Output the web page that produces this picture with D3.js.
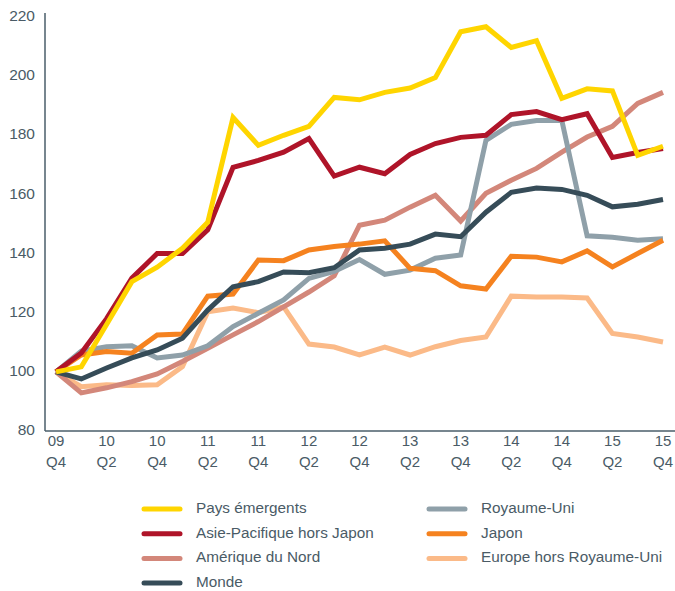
<!DOCTYPE html>
<html>
<head>
<meta charset="utf-8">
<script src="https://cdn.jsdelivr.net/npm/d3@7"></script>
<style>
  body { margin: 0; background: #fff; }
  svg { display: block; font-family: "Liberation Sans", Arial, sans-serif; }
</style>
</head>
<body>
<div id="chart"></div>
<script>
// quarters from 09 Q4 to 15 Q4
const quarters = ['09 Q4', '10 Q1', '10 Q2', '10 Q3', '10 Q4', '11 Q1', '11 Q2', '11 Q3', '11 Q4',
    '12 Q1', '12 Q2', '12 Q3', '12 Q4', '13 Q1', '13 Q2', '13 Q3', '13 Q4',
    '14 Q1', '14 Q2', '14 Q3', '14 Q4', '15 Q1', '15 Q2', '15 Q3', '15 Q4'];

const paysEmergents = [100, 101.7, 116, 130.5, 135.4, 141.8, 150.6, 186, 176.6, 180, 183, 192.8,
    192, 194.5, 196, 199.5, 215, 216.7, 209.7, 212, 192.5, 195.7, 195, 173.2, 176.3];
const asiePacifique = [100, 106.4, 118, 131.7, 140, 140, 148, 169.2, 171.5, 174.3, 178.9, 166.2,
    169.2, 167, 173.5, 177.2, 179.3, 180, 187, 188, 185.3, 187.3, 172.5, 174.2, 175.5];
const ameriqueNord = [100, 92.9, 94.6, 96.7, 99.3, 103.5, 108, 112.5, 117, 122, 127, 132.5,
    149.6, 151.3, 155.7, 159.7, 151, 160.4, 164.8, 168.8, 174.3, 179.4, 183, 190.8, 194.5];
const monde = [100, 97.6, 101.3, 104.7, 107.4, 111.4, 120.9, 128.8, 130.5, 133.8, 133.5, 135.2,
    141.2, 141.8, 143.2, 146.6, 145.7, 154, 160.7, 162.2, 161.7, 159.7, 155.8, 156.7, 158.3];
const royaumeUni = [100, 107, 108.5, 108.8, 104.7, 105.7, 108.8, 115.3, 119.8, 124.3, 131.6, 134,
    138, 133, 134.4, 138.4, 139.5, 178.3, 183.7, 185, 185, 146, 145.5, 144.5, 145];
const japon = [100, 105.7, 106.9, 106.3, 112.5, 112.8, 125.6, 126.3, 137.8, 137.6, 141.2, 142.4,
    143.2, 144.3, 135, 134.2, 129.1, 128, 139.1, 138.8, 137.2, 140.9, 135.5, 140, 144.5];
const europeHorsRU = [100, 95, 95.6, 95.4, 95.6, 101.8, 120.3, 121.6, 120, 122, 109.4, 108.4,
    105.7, 108.4, 105.7, 108.5, 110.6, 111.8, 125.6, 125.3, 125.3, 125, 113, 111.8, 110.1];

const yTicks = [80, 100, 120, 140, 160, 180, 200, 220];

const series = [
    { name: 'Europe hors Royaume-Uni', values: europeHorsRU, color: '#FBBA88' },
    { name: 'Amérique du Nord', values: ameriqueNord, color: '#D3877A' },
    { name: 'Royaume-Uni', values: royaumeUni, color: '#8FA0A9' },
    { name: 'Japon', values: japon, color: '#F5821F' },
    { name: 'Monde', values: monde, color: '#364C58' },
    { name: 'Asie-Pacifique hors Japon', values: asiePacifique, color: '#AF1429' },
    { name: 'Pays émergents', values: paysEmergents, color: '#FFD500' }
];

// legend layout: two columns, order as in the reference
const legendLeft = ['Pays émergents', 'Asie-Pacifique hors Japon', 'Amérique du Nord', 'Monde'];
const legendRight = ['Royaume-Uni', 'Japon', 'Europe hors Royaume-Uni'];

const width = 675, height = 591;
const textColor = '#4A5B66';
const axisColor = '#4A5E6A';

const svg = d3.select('#chart').append('svg')
    .attr('width', width)
    .attr('height', height);

const x = d3.scaleLinear()
    .domain([0, quarters.length - 1])
    .range([56, 663]);

const y = d3.scaleLinear()
    .domain([80, 220])
    .range([431, 17]);

// axis lines
svg.append('line')
    .attr('x1', 45).attr('x2', 45)
    .attr('y1', 13).attr('y2', 431)
    .attr('stroke', axisColor).attr('stroke-width', 1.5);
svg.append('line')
    .attr('x1', 45).attr('x2', width)
    .attr('y1', 431).attr('y2', 431)
    .attr('stroke', axisColor).attr('stroke-width', 1.5);

// y tick labels
svg.append('g')
    .selectAll('text')
    .data(yTicks)
    .join('text')
    .attr('x', 35)
    .attr('y', d => y(d))
    .attr('text-anchor', 'end')
    .attr('dominant-baseline', 'middle')
    .attr('fill', textColor)
    .style('font-size', '15.5px')
    .text(d => d);

// x tick labels every second quarter, two lines
const xLabels = svg.append('g')
    .selectAll('text')
    .data(quarters.map((q, i) => ({ q, i })).filter(d => d.i % 2 === 0))
    .join('text')
    .attr('text-anchor', 'middle')
    .attr('fill', textColor)
    .style('font-size', '15px');

xLabels.append('tspan')
    .attr('x', d => x(d.i))
    .attr('y', 446)
    .text(d => d.q.split(' ')[0]);
xLabels.append('tspan')
    .attr('x', d => x(d.i))
    .attr('y', 467)
    .text(d => d.q.split(' ')[1]);

const line = d3.line()
    .x((d, i) => x(i))
    .y(d => y(d));

svg.append('g')
    .selectAll('path')
    .data(series)
    .join('path')
    .attr('d', d => line(d.values))
    .attr('fill', 'none')
    .attr('stroke', d => d.color)
    .attr('stroke-width', 5)
    .attr('stroke-linejoin', 'miter')
    .attr('stroke-miterlimit', 3);

// legend
const colorOf = name => series.find(s => s.name === name).color;

function drawLegendColumn(names, swatchX, textX) {
    const g = svg.append('g');
    const rows = g.selectAll('g')
        .data(names)
        .join('g')
        .attr('transform', (d, i) => `translate(0,${509 + i * 24.7})`);
    rows.append('line')
        .attr('x1', swatchX).attr('x2', swatchX + 36)
        .attr('stroke', d => colorOf(d))
        .attr('stroke-width', 5)
        .attr('stroke-linecap', 'round');
    rows.append('text')
        .attr('x', textX)
        .attr('dominant-baseline', 'middle')
        .attr('fill', textColor)
        .style('font-size', '15.3px')
        .text(d => d);
}

drawLegendColumn(legendLeft, 144, 196);
drawLegendColumn(legendRight, 429, 481);
</script>
</body>
</html>
